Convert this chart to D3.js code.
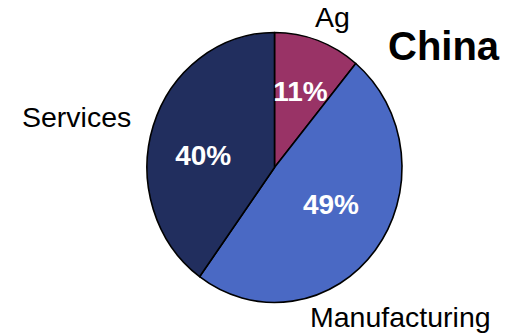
<!DOCTYPE html>
<html>
<head>
<meta charset="utf-8">
<script src="https://cdn.jsdelivr.net/npm/d3@7"></script>
<style>
  html, body { margin: 0; padding: 0; background: #fff; }
  svg text { font-family: "Liberation Sans", Arial, sans-serif; }
</style>
</head>
<body>
<svg id="chart" width="510" height="336"></svg>
<script>
// Sector shares of GDP
const title = "China";
const sectors = ["Ag", "Manufacturing", "Services"];
const shares = [11, 49, 40];
const colors = ["#993366", "#4a69c4", "#212e5e"];

const svg = d3.select("#chart");

// pie geometry
const cx = 274.5, cy = 167.5, rx = 127.5, ry = 135;

const pie = d3.pie().sort(null).value(d => d.value);
const arcs = pie(sectors.map((s, i) => ({ name: s, value: shares[i], color: colors[i] })));
const arc = d3.arc().innerRadius(0).outerRadius(rx);

const g = svg.append("g")
  .attr("transform", `translate(${cx},${cy}) scale(1,${ry / rx})`);

g.selectAll("path.slice")
  .data(arcs)
  .join("path")
  .attr("class", "slice")
  .attr("d", arc)
  .attr("fill", d => d.data.color)
  .attr("stroke", "#000")
  .attr("stroke-width", 1.6)
  .attr("vector-effect", "non-scaling-stroke")
  .attr("stroke-linejoin", "round");

// percentage labels inside the slices (radius factor, dx, dy nudges)
const pctLayout = {
  "Ag": { r: 0.6, dx: 0, dy: 0 },
  "Manufacturing": { r: 0.55, dx: 1, dy: -9 },
  "Services": { r: 0.58, dx: -1, dy: 12 }
};
svg.selectAll("text.pct")
  .data(arcs)
  .join("text")
  .attr("class", "pct")
  .each(function (d) {
    const L = pctLayout[d.data.name];
    const a = (d.startAngle + d.endAngle) / 2;
    const x = cx + Math.sin(a) * rx * L.r + L.dx;
    const y = cy - Math.cos(a) * ry * L.r + L.dy;
    d3.select(this).attr("x", x).attr("y", y);
  })
  .attr("text-anchor", "middle")
  .attr("dominant-baseline", "central")
  .attr("fill", "#fff")
  .attr("font-weight", "bold")
  .attr("font-size", 28)
  .text(d => d.data.value + "%");

// category names outside the pie
const nameLayout = {
  "Ag": { x: 315, y: 27 },
  "Manufacturing": { x: 310, y: 327 },
  "Services": { x: 22, y: 127 }
};
svg.selectAll("text.name")
  .data(arcs)
  .join("text")
  .attr("class", "name")
  .attr("x", d => nameLayout[d.data.name].x)
  .attr("y", d => nameLayout[d.data.name].y)
  .attr("fill", "#000")
  .attr("font-size", 28.5)
  .text(d => d.data.name);

svg.append("text")
  .attr("x", 388)
  .attr("y", 60)
  .attr("font-size", 40)
  .attr("font-weight", "bold")
  .attr("fill", "#000")
  .text(title);
</script>
</body>
</html>
